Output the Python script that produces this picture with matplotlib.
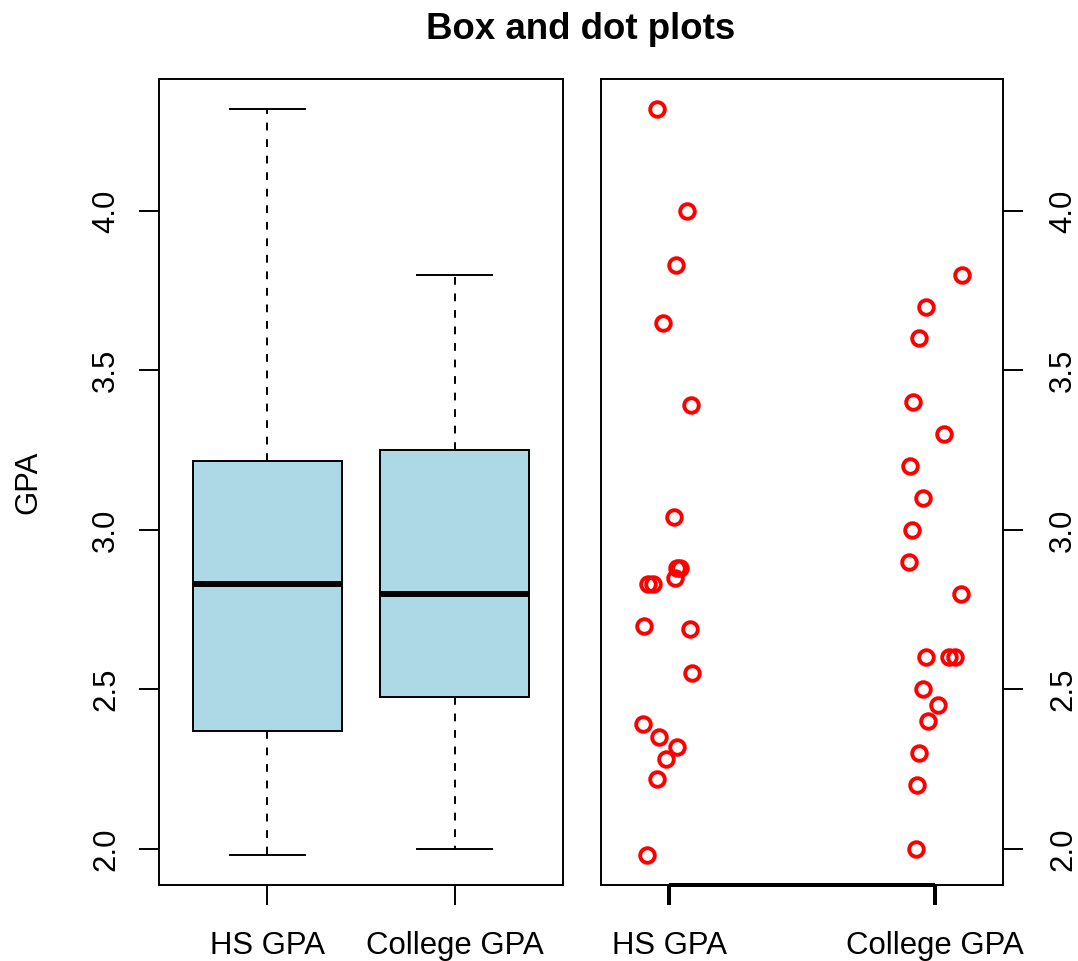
import matplotlib
matplotlib.use('Agg')
import matplotlib.pyplot as plt
import numpy as np

plt.rcParams['font.family'] = ['Liberation Sans', 'DejaVu Sans']

# ---- data ----
group_labels = ["HS GPA", "College GPA"]
hs_gpa = [4.32, 4.00, 3.83, 3.65, 3.39, 3.04, 2.88, 2.88, 2.85, 2.83, 2.83,
          2.70, 2.69, 2.55, 2.39, 2.35, 2.32, 2.28, 2.22, 1.98]
hs_jitter = [-0.046, 0.069, 0.027, -0.024, 0.082, 0.018, 0.031, 0.041, 0.021,
             -0.078, -0.059, -0.093, 0.080, 0.085, -0.098, -0.036, 0.031,
             -0.011, -0.045, -0.084]
college_gpa = [3.80, 3.70, 3.60, 3.40, 3.30, 3.20, 3.10, 3.00, 2.90, 2.80,
               2.60, 2.60, 2.60, 2.50, 2.45, 2.40, 2.30, 2.20, 2.00]
college_jitter = [0.100, -0.034, -0.060, -0.082, 0.035, -0.094, -0.044,
                  -0.088, -0.097, 0.098, -0.034, 0.054, 0.075, -0.044, 0.010,
                  -0.026, -0.061, -0.069, -0.073]
y_ticks = [2.0, 2.5, 3.0, 3.5, 4.0]
title = "Box and dot plots"
y_label = "GPA"


def fivenum(values):
    x = np.sort(np.asarray(values, dtype=float))
    n = len(x)
    n4 = np.floor((n + 3) / 2) / 2
    d = np.array([1, n4, (n + 1) / 2, n + 1 - n4, n])
    return 0.5 * (x[np.floor(d).astype(int) - 1] + x[np.ceil(d).astype(int) - 1])


W, H = 1078, 961
fig = plt.figure(figsize=(W / 100, H / 100), dpi=100)


def rect(l, t, r, b):
    return [l / W, 1 - b / H, (r - l) / W, (b - t) / H]


ax1 = fig.add_axes(rect(159, 79, 563, 885))
ax2 = fig.add_axes(rect(601, 79, 1003, 885))

LW = 1.4
FS = 22.4
positions = [1, 2]

stats = []
for vals, lab in zip([hs_gpa, college_gpa], group_labels):
    f = fivenum(vals)
    stats.append(dict(whislo=f[0], q1=f[1], med=f[2], q3=f[3], whishi=f[4],
                      fliers=[], label=lab))

ax1.bxp(stats, positions=positions, widths=0.8, capwidths=0.4,
        patch_artist=True, showfliers=False,
        boxprops=dict(facecolor='#ADD8E6', edgecolor='black', linewidth=LW),
        medianprops=dict(color='black', linewidth=4.3, solid_capstyle='butt'),
        whiskerprops=dict(color='black', linewidth=LW, linestyle=(0, (4, 4.5))),
        capprops=dict(color='black', linewidth=LW))

allv = np.array(hs_gpa + college_gpa)
lo, hi = allv.min(), allv.max()
ypad = 0.04 * (hi - lo)
for ax in (ax1, ax2):
    ax.set_ylim(lo - ypad, hi + ypad)
    for s in ax.spines.values():
        s.set_linewidth(LW)

ax1.set_xlim(0.5 - 0.04 * 2, 2.5 + 0.04 * 2)
ax1.set_xticks(positions, labels=group_labels, fontsize=FS)
ax1.tick_params(axis='x', length=14.4, width=LW, pad=18.5)
ax1.set_yticks(y_ticks, labels=[f"{t:.1f}" for t in y_ticks], fontsize=FS,
               rotation=90, va='center')
ax1.tick_params(axis='y', length=14.4, width=LW, pad=13)

# dot plot
for xs, ys, pos in [(hs_jitter, hs_gpa, 1), (college_jitter, college_gpa, 2)]:
    ax2.plot(pos + np.asarray(xs), ys, linestyle='none', marker='o',
             mfc='none', mec='red', ms=10.5, mew=2.8, clip_on=False)

glim = (1 - 0.2, 2 + 0.2)
gpad = 0.04 * (glim[1] - glim[0])
ax2.set_xlim(glim[0] - gpad, glim[1] + gpad)
ax2.set_xticks(positions, labels=group_labels, fontsize=FS)
ax2.tick_params(axis='x', length=14.4, width=2.9, pad=18.5)
ax2.plot(positions, [0, 0], transform=ax2.get_xaxis_transform(), color='black',
         lw=2.9, clip_on=False, solid_capstyle='butt')
ax2.yaxis.tick_right()
ax2.set_yticks(y_ticks, labels=[f"{t:.1f}" for t in y_ticks], fontsize=FS,
               rotation=90, va='center')
ax2.tick_params(axis='y', length=14.4, width=LW, pad=18)

fig.text(581 / W, 1 - 39 / H, title, ha='center', va='baseline',
         fontsize=26.4, fontweight='bold')
fig.text(28 / W, 1 - 482 / H, y_label, ha='center', va='center',
         rotation=90, fontsize=FS)

fig.savefig('out.png', dpi=100)
